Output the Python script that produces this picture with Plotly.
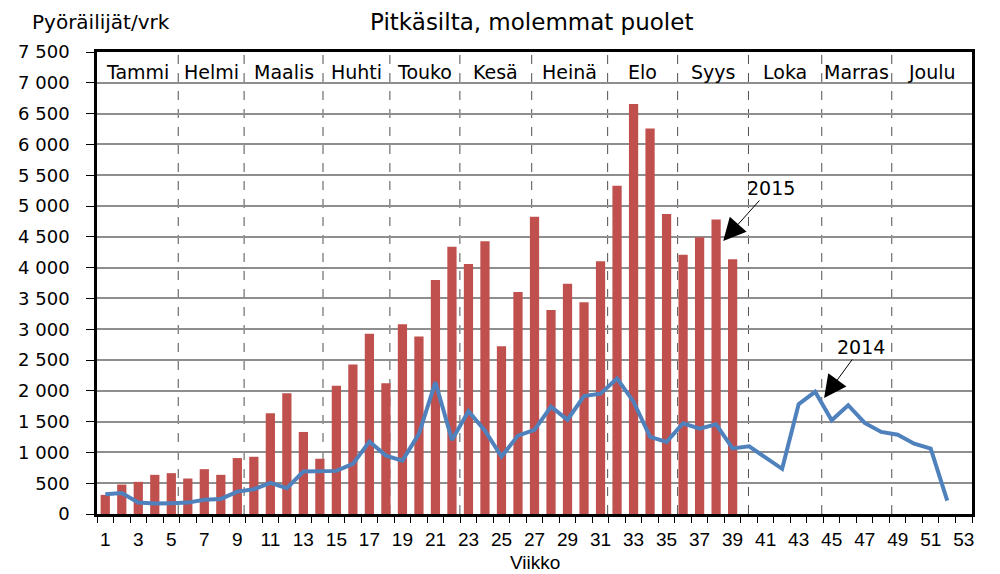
import plotly.graph_objects as go

weeks = list(range(1, 54))
bars_2015 = [310, 478, 522, 636, 663, 576, 728, 636, 908, 929, 1636, 1962, 1332, 897, 2080,
             2427, 2925, 2124, 3082, 2882, 3797, 4339, 4057, 4426, 2725, 3602, 4827, 3310, 3738,
             3436, 4105, 5329, 6656, 6257, 4871, 4207, 4493, 4779, 4137]
line_2014 = [320, 340, 185, 170, 175, 185, 230, 245, 364, 402, 505, 418, 690, 695, 700,
             813, 1176, 948, 867, 1300, 2140, 1203, 1668, 1354, 932, 1273, 1365, 1744, 1530,
             1915, 1953, 2201, 1823, 1251, 1170, 1473, 1386, 1456, 1065, 1098, 913, 734, 1783,
             1984, 1522, 1766, 1478, 1332, 1288, 1141, 1060, 217]
months = ["Tammi", "Helmi", "Maalis", "Huhti", "Touko", "Kesä", "Heinä", "Elo", "Syys",
          "Loka", "Marras", "Joulu"]
month_bounds = [0.5, 5.42, 9.41, 14.19, 18.24, 22.48, 26.83, 31.43, 35.67, 39.96, 44.4, 48.64, 53.5]
y_ticks = list(range(0, 7501, 500))
x_ticks = list(range(1, 54, 2))

main_font = "DejaVu Sans, Noto Sans, sans-serif"
narrow_font = "Liberation Sans Narrow, Arial Narrow, Liberation Sans, sans-serif"

fig = go.Figure()
fig.add_trace(go.Bar(x=weeks[:len(bars_2015)], y=bars_2015, marker_color="#C0504D",
                     marker_line_width=0, name="2015"))
fig.add_trace(go.Scatter(x=weeks[:len(line_2014)], y=line_2014, mode="lines",
                         line=dict(color="#4F81BD", width=4), name="2014"))

for b in month_bounds[1:-1]:
    fig.add_shape(type="line", xref="x", yref="paper", x0=b, x1=b, y0=0, y1=1,
                  line=dict(color="#505050", width=1, dash="dash"), layer="below")

for i, m in enumerate(months):
    fig.add_annotation(x=(month_bounds[i] + month_bounds[i + 1]) / 2, y=7180, xref="x", yref="y",
                       text=m, showarrow=False, font=dict(family=main_font, size=19, color="black"))

fig.add_annotation(x=38.43, y=4432, ax=41.3, ay=5292, xref="x", yref="y", axref="x", ayref="y",
                   text="2015", showarrow=True, arrowhead=2, arrowsize=4.5, arrowwidth=1,
                   arrowcolor="black", font=dict(family=main_font, size=19, color="black"))
fig.add_annotation(x=44.54, y=1883, ax=46.8, ay=2711, xref="x", yref="y", axref="x", ayref="y",
                   text="2014", showarrow=True, arrowhead=2, arrowsize=4.5, arrowwidth=1,
                   arrowcolor="black", font=dict(family=main_font, size=19, color="black"))

fig.add_annotation(x=-0.0765, y=1.0645, xref="paper", yref="paper", xanchor="left", yanchor="middle",
                   text="Pyöräilijät/vrk", showarrow=False,
                   font=dict(family=main_font, size=20, color="black"))
fig.add_annotation(x=0.5, y=-0.106, xref="paper", yref="paper", xanchor="center", yanchor="middle",
                   text="Viikko", showarrow=False,
                   font=dict(family=narrow_font, size=19, color="black"))

fig.update_layout(
    width=992, height=566,
    margin=dict(l=89, r=28, t=44, b=60),
    paper_bgcolor="white", plot_bgcolor="white",
    showlegend=False,
    bargap=0.44,
    title=dict(text="Pitkäsilta, molemmat puolet", x=0.528, xanchor="center",
               y=1 - 14 / 566, yanchor="middle", yref="container",
               font=dict(family=main_font, size=23, color="black")),
)
fig.update_xaxes(range=[0.5, 53.5], tickvals=x_ticks, ticktext=[str(v) for v in x_ticks],
                 ticks="", showgrid=False, zeroline=False, automargin=False,
                 showline=True, linecolor="black", linewidth=2.5, mirror=True,
                 tickfont=dict(family=narrow_font, size=19, color="black"),
                 ticklabelstandoff=6,
                 minor=dict(tickvals=[w - 0.5 for w in weeks] + [53.5], ticks="outside",
                            ticklen=6, tickcolor="black", tickwidth=1, showgrid=False))
fig.update_yaxes(range=[0, 7500], tickvals=y_ticks,
                 ticktext=[f"{v:,}".replace(",", " ") for v in y_ticks],
                 ticks="outside", ticklen=8, tickcolor="black", tickwidth=1,
                 showgrid=True, gridcolor="#8e8e8e", gridwidth=1.5, zeroline=False,
                 automargin=False,
                 showline=True, linecolor="black", linewidth=2.5, mirror=True,
                 tickfont=dict(family=main_font, size=18, color="black"),
                 ticklabelstandoff=13)

fig.write_html("out.html")
